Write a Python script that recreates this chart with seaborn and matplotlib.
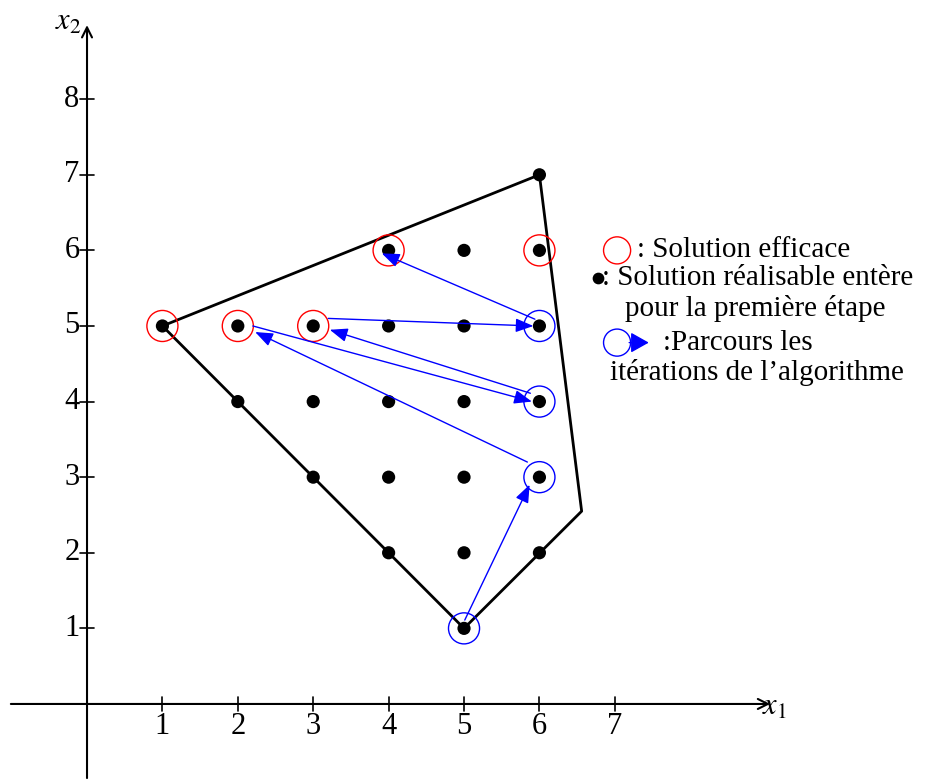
import matplotlib
matplotlib.use("Agg")
import matplotlib.pyplot as plt
import seaborn as sns
import pandas as pd

# Data
dots_x = [1, 2, 3, 4, 5, 6, 4, 5, 6, 6, 2, 3, 4, 5, 6, 3, 4, 5, 6, 4, 5, 6, 5]
dots_y = [5, 5, 5, 5, 5, 5, 6, 6, 6, 7, 4, 4, 4, 4, 4, 3, 3, 3, 3, 2, 2, 2, 1]
poly_x = [1, 6, 6.56, 5, 1]
poly_y = [5, 7, 2.55, 1, 5]
eff_x = [1, 2, 3, 4, 6]
eff_y = [5, 5, 5, 6, 6]
iter_x = [5, 6, 6, 6]
iter_y = [1, 3, 4, 5]
arr_start_x = [5.01, 5.84, 2.2, 5.88, 3.2, 5.94]
arr_start_y = [1.11, 3.2, 5.0, 4.11, 5.1, 5.09]
arr_end_x = [5.87, 2.23, 5.9, 3.22, 5.92, 3.91]
arr_end_y = [2.9, 4.92, 4.0, 4.95, 5.0, 5.96]
xticks = [1, 2, 3, 4, 5, 6, 7]
yticks = [1, 2, 3, 4, 5, 6, 7, 8]

sns.set_theme(style="white")
plt.rcParams['font.family'] = ['Liberation Serif', 'DejaVu Serif']
plt.rcParams['mathtext.fontset'] = 'stix'
plt.rcParams['text.color'] = 'black'

fig = plt.figure(figsize=(9.34, 7.81), dpi=100)
ax = fig.add_axes([0, 0, 1, 1])
ax.set_xlim(-1.154, 11.233)
ax.set_ylim(-1.019, 9.312)
ax.axis('off')

# axes lines
ax.annotate('', xy=(9.06, 0), xytext=(-1.01, 0),
            arrowprops=dict(arrowstyle='->', color='black', lw=1.5, mutation_scale=18, shrinkA=0, shrinkB=0))
ax.annotate('', xy=(0, 8.98), xytext=(0, -0.98),
            arrowprops=dict(arrowstyle='->', color='black', lw=1.5, mutation_scale=18, shrinkA=0, shrinkB=0))
for t in xticks:
    ax.plot([t, t], [-0.09, 0.09], color='black', lw=1.2)
    ax.text(t, -0.11, str(t), ha='center', va='top', fontsize=22, color='black')
for t in yticks:
    ax.plot([-0.09, 0.09], [t, t], color='black', lw=1.2)
    ax.text(-0.1, t, str(t), ha='right', va='center', fontsize=22, color='black')
ax.text(8.95, -0.05, r'$x_1$', fontsize=22, ha='left', va='center', color='black')
ax.text(-0.08, 9.02, r'$x_2$', fontsize=22, ha='right', va='center', color='black')

# polygon
poly = pd.DataFrame({'x': poly_x, 'y': poly_y})
sns.lineplot(data=poly, x='x', y='y', sort=False, estimator=None, color='black', lw=2, ax=ax)

# dots
dots = pd.DataFrame({'x': dots_x, 'y': dots_y})
sns.scatterplot(data=dots, x='x', y='y', color='black', s=90, edgecolor='none', ax=ax, zorder=5)

# efficient solutions circles
eff = pd.DataFrame({'x': eff_x, 'y': eff_y})
sns.scatterplot(data=eff, x='x', y='y', marker='o', s=500, facecolor='none', edgecolor='red', linewidth=1.0, ax=ax, zorder=4)
it = pd.DataFrame({'x': iter_x, 'y': iter_y})
sns.scatterplot(data=it, x='x', y='y', marker='o', s=500, facecolor='none', edgecolor='blue', linewidth=1.0, ax=ax, zorder=4)

# arrows
astyle = '-|>,head_length=0.9,head_width=0.35'
for sx, sy, ex, ey in zip(arr_start_x, arr_start_y, arr_end_x, arr_end_y):
    ax.annotate('', xy=(ex, ey), xytext=(sx, sy),
                arrowprops=dict(arrowstyle=astyle, color='blue', lw=1.0,
                                mutation_scale=12, shrinkA=0, shrinkB=0), zorder=6)

ax.set_xlabel('')
ax.set_ylabel('')

# legend text
fs = 21
ax.scatter([7.03], [6.0], s=380, facecolor='none', edgecolor='red', linewidth=1.0)
ax.text(7.3, 6.0, ': Solution efficace', fontsize=fs, ha='left', va='center')
ax.scatter([6.78], [5.64], s=55, color='black')
ax.text(6.83, 5.64, ': Solution réalisable entère', fontsize=fs, ha='left', va='center')
ax.text(8.86, 5.23, 'pour la première étape', fontsize=fs, ha='center', va='center')
ax.scatter([7.03], [4.78], s=380, facecolor='none', edgecolor='blue', linewidth=1.0)
ax.annotate('', xy=(7.45, 4.78), xytext=(7.19, 4.78),
            arrowprops=dict(arrowstyle='-|>,head_length=0.8,head_width=0.45', color='blue', lw=1.0,
                            mutation_scale=14, shrinkA=0, shrinkB=0))
ax.text(7.64, 4.78, ':Parcours les', fontsize=fs, ha='left', va='center')
ax.text(8.88, 4.39, 'itérations de l’algorithme', fontsize=fs, ha='center', va='center')

fig.savefig('out.png', dpi=100)
